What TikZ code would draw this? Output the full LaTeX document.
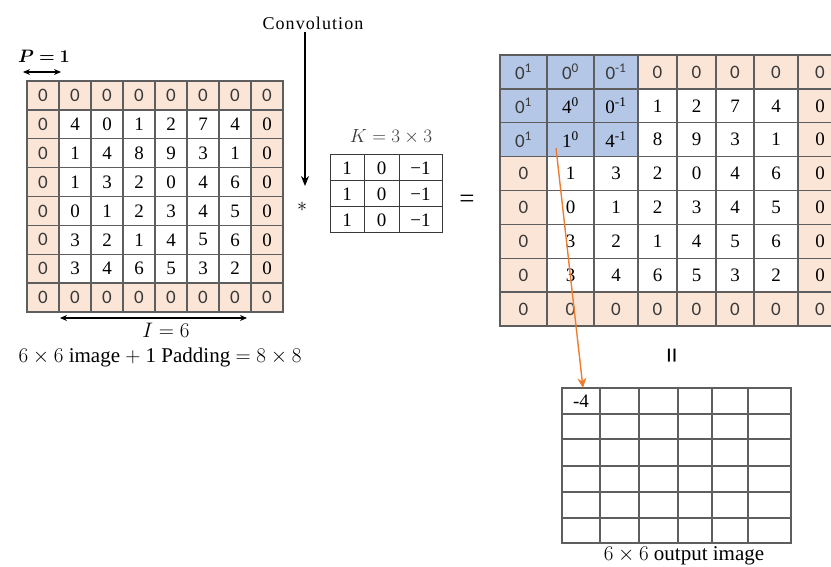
\RequirePackage{fix-cm}
\documentclass[tikz,border=0pt]{standalone}
\usepackage{fontspec}
\usepackage{bm}
\setmainfont{Liberation Serif}
\newfontfamily\padfont{Carlito}
\usetikzlibrary{arrows.meta}
\definecolor{pad}{HTML}{FBE5D6}
\definecolor{kb}{HTML}{B4C7E7}
\definecolor{gl}{HTML}{5E5E5E}
\definecolor{sgray}{HTML}{3A3A3A}
\definecolor{orng}{HTML}{ED7D31}
\begin{document}
\begin{tikzpicture}[x=1pt,y=-1pt,
  cellbox/.style={draw=gl, line width=1.3pt, inner sep=0pt, outer sep=0pt, anchor=center},
  big/.style={font=\fontsize{19}{22}\selectfont},
  lbl/.style={inner sep=0pt, font=\fontsize{19}{22}\selectfont},
  captext/.style={inner sep=0pt, font=\fontsize{21}{24}\selectfont},
  dimarrow/.style={line width=1.3pt, {Stealth[length=7pt,width=6pt]}-{Stealth[length=7pt,width=6pt]}},
  blackarrow/.style={line width=1.2pt, -{Stealth[length=10pt,width=8pt]}},
  orangearrow/.style={draw=orng, line width=1.4pt, -{Stealth[length=10pt,width=9pt]}}
]
\useasboundingbox (0,0) rectangle (831,567);

% ---------- left padded input grid ----------
\foreach \row [count=\ri from 0] in {{0,0,0,0,0,0,0,0},{0,4,0,1,2,7,4,0},{0,1,4,8,9,3,1,0},{0,1,3,2,0,4,6,0},{0,0,1,2,3,4,5,0},{0,3,2,1,4,5,6,0},{0,3,4,6,5,3,2,0},{0,0,0,0,0,0,0,0}}{
  \foreach \v [count=\ci from 0] in \row {
    \pgfmathsetmacro\cx{27+32*\ci+16}
    \pgfmathsetmacro\cy{81+28.875*\ri+14.4375}
    \def\fillc{white}\def\fnt{\rmfamily\color{black}}
    \ifnum\ci=7 \def\fillc{pad}\fi
    \ifnum\ri=0 \def\fillc{pad}\def\fnt{\padfont\color{sgray}}\fi
    \ifnum\ri=7 \def\fillc{pad}\def\fnt{\padfont\color{sgray}}\fi
    \ifnum\ci=0 \def\fillc{pad}\def\fnt{\padfont\color{sgray}}\fi
    \node[cellbox, big, fill=\fillc, minimum width=32pt, minimum height=28.875pt] (L-\ri-\ci) at (\cx,\cy) {\fnt\v};
  }
}

% P = 1
\node[inner sep=0pt, font=\fontsize{18}{21}\selectfont] (plabel) at (44,56) {$\bm{P = 1}$};
\coordinate (pL) at (23,72);
\coordinate (pR) at (61,72);
\draw[dimarrow] (pL) -- (pR);

% I = 6
\coordinate (iL) at (60,318);
\coordinate (iR) at (247,318);
\draw[dimarrow] (iL) -- (iR);
\node[inner sep=0pt, font=\fontsize{21}{24}\selectfont] (ilabel) at (166,330) {$I = 6$};
\node[captext] (caption1) at (160,357) {$6\times 6$ image $+$ 1 Padding $= 8\times 8$};

% ---------- convolution label and arrow ----------
\node[inner sep=0pt, font=\fontsize{18}{21}\selectfont\addfontfeatures{LetterSpace=6}] (conv) at (313,23) {Convolution};
\coordinate (convend) at (305,186);
\draw[blackarrow] (conv.south -| convend) ++(0,2) -- (convend);
\node[inner sep=0pt, font=\fontsize{20}{22}\selectfont] (star) at (302,207) {$*$};

% ---------- kernel ----------
\node[lbl, text=sgray] (klabel) at (391,137) {$K = 3\times 3$};
\foreach \row [count=\ri from 0] in {{1,0,−1},{1,0,−1},{1,0,−1}}{
  \foreach \v [count=\ci from 0] in \row {
    \pgfmathsetmacro\xa{{330,364,399,442}[\ci]}
    \pgfmathsetmacro\xb{{330,364,399,442}[\ci+1]}
    \pgfmathsetmacro\cx{(\xa+\xb)/2}
    \pgfmathsetmacro\w{\xb-\xa}
    \pgfmathsetmacro\cy{155+26*\ri+13}
    \node[cellbox, big, draw=sgray, line width=1pt, minimum width=\w pt, minimum height=26pt] (K-\ri-\ci) at (\cx,\cy) {\v};
  }
}

\node[inner sep=0pt, font=\fontsize{27}{29}\selectfont] (eq1) at (467,201) {=};

% ---------- right padded grid with kernel overlay ----------
\foreach \row [count=\ri from 0] in {{0\textsuperscript{1},0\textsuperscript{0},0\textsuperscript{-1},0,0,0,0,0},{0\textsuperscript{1},4\textsuperscript{0},0\textsuperscript{-1},1,2,7,4,0},{0\textsuperscript{1},1\textsuperscript{0},4\textsuperscript{-1},8,9,3,1,0},{0,1,3,2,0,4,6,0},{0,0,1,2,3,4,5,0},{0,3,2,1,4,5,6,0},{0,3,4,6,5,3,2,0},{0,0,0,0,0,0,0,0}}{
  \foreach \v [count=\ci from 0] in \row {
    \pgfmathsetmacro\xa{{500,547,594,638,677,716,754,798,842}[\ci]}
    \pgfmathsetmacro\xb{{500,547,594,638,677,716,754,798,842}[\ci+1]}
    \pgfmathsetmacro\cx{(\xa+\xb)/2}
    \pgfmathsetmacro\w{\xb-\xa}
    \pgfmathsetmacro\cy{55+33.875*\ri+16.9375}
    \def\fillc{white}\def\fnt{\rmfamily\color{black}}
    \ifnum\ci=7 \def\fillc{pad}\fi
    \ifnum\ri=0 \def\fillc{pad}\def\fnt{\padfont\color{sgray}}\fi
    \ifnum\ri=7 \def\fillc{pad}\def\fnt{\padfont\color{sgray}}\fi
    \ifnum\ci=0 \def\fillc{pad}\def\fnt{\padfont\color{sgray}}\fi
    \ifnum\ri<3 \ifnum\ci<3 \def\fillc{kb}\fi\fi
    \node[cellbox, big, fill=\fillc, minimum width=\w pt, minimum height=33.875pt] (R-\ri-\ci) at (\cx,\cy) {\fnt\v};
  }
}

% rotated equals
\node[inner sep=0pt, rotate=90, font=\fontsize{28}{30}\selectfont\bfseries] (eq2) at (675,356) {=};

% ---------- output grid ----------
\foreach \ri in {0,...,5}{
  \foreach \ci in {0,...,5}{
    \pgfmathsetmacro\xa{{562,600,639,678,712,748,791}[\ci]}
    \pgfmathsetmacro\xb{{562,600,639,678,712,748,791}[\ci+1]}
    \pgfmathsetmacro\ya{{388,414,439,466,492,518,543}[\ri]}
    \pgfmathsetmacro\yb{{388,414,439,466,492,518,543}[\ri+1]}
    \pgfmathsetmacro\cx{(\xa+\xb)/2}
    \pgfmathsetmacro\cy{(\ya+\yb)/2}
    \pgfmathsetmacro\w{\xb-\xa}
    \pgfmathsetmacro\h{\yb-\ya}
    \def\txt{}
    \ifnum\ri=0 \ifnum\ci=0 \def\txt{-4}\fi\fi
    \node[cellbox, big, line width=1.1pt, minimum width=\w pt, minimum height=\h pt] (O-\ri-\ci) at (\cx,\cy) {\txt};
  }
}
\node[captext] (caption2) at (684,556) {$6\times 6$ output image};

% orange arrow
\coordinate (ostart) at (556,148);
\draw[orangearrow] (ostart) -- ([xshift=2pt]O-0-0.north);
\end{tikzpicture}
\end{document}
